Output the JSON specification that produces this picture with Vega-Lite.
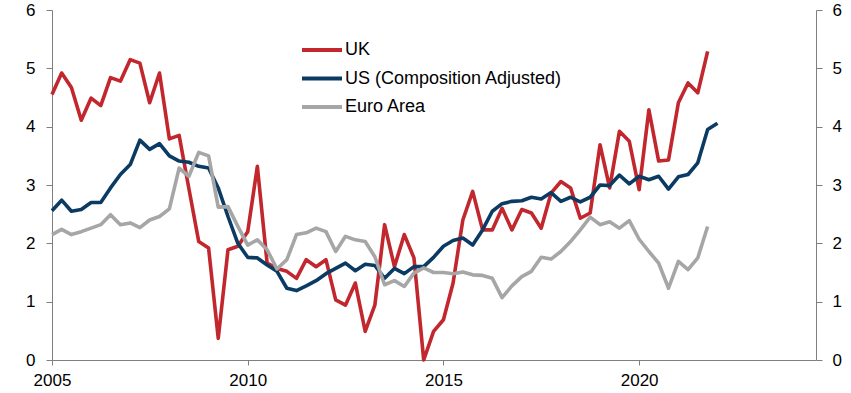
{
  "$schema": "https://vega.github.io/schema/vega-lite/v6.json",
  "width": 764,
  "height": 350,
  "autosize": {"type": "none"},
  "padding": {"left": 52, "top": 10, "right": 35, "bottom": 33},
  "config": {
    "view": {"stroke": null},
    "font": "Liberation Sans",
    "axis": {
      "grid": false,
      "domainColor": "#7f7f7f",
      "tickColor": "#7f7f7f",
      "labelColor": "#000000",
      "labelFontSize": 17,
      "title": null
    }
  },
  "data": {
    "values": [
      {"date": "2005-01-01", "UK": 4.55, "US (Composition Adjusted)": 2.56, "Euro Area": 2.15},
      {"date": "2005-04-01", "UK": 4.92, "US (Composition Adjusted)": 2.74, "Euro Area": 2.24},
      {"date": "2005-07-01", "UK": 4.67, "US (Composition Adjusted)": 2.55, "Euro Area": 2.15},
      {"date": "2005-10-01", "UK": 4.11, "US (Composition Adjusted)": 2.58, "Euro Area": 2.2},
      {"date": "2006-01-01", "UK": 4.49, "US (Composition Adjusted)": 2.7, "Euro Area": 2.26},
      {"date": "2006-04-01", "UK": 4.36, "US (Composition Adjusted)": 2.7, "Euro Area": 2.32},
      {"date": "2006-07-01", "UK": 4.84, "US (Composition Adjusted)": 2.95, "Euro Area": 2.49},
      {"date": "2006-10-01", "UK": 4.78, "US (Composition Adjusted)": 3.18, "Euro Area": 2.32},
      {"date": "2007-01-01", "UK": 5.15, "US (Composition Adjusted)": 3.35, "Euro Area": 2.35},
      {"date": "2007-04-01", "UK": 5.09, "US (Composition Adjusted)": 3.77, "Euro Area": 2.27},
      {"date": "2007-07-01", "UK": 4.41, "US (Composition Adjusted)": 3.61, "Euro Area": 2.4},
      {"date": "2007-10-01", "UK": 4.92, "US (Composition Adjusted)": 3.71, "Euro Area": 2.46},
      {"date": "2008-01-01", "UK": 3.79, "US (Composition Adjusted)": 3.5, "Euro Area": 2.59},
      {"date": "2008-04-01", "UK": 3.85, "US (Composition Adjusted)": 3.41, "Euro Area": 3.29},
      {"date": "2008-07-01", "UK": 2.94, "US (Composition Adjusted)": 3.39, "Euro Area": 3.15},
      {"date": "2008-10-01", "UK": 2.03, "US (Composition Adjusted)": 3.32, "Euro Area": 3.56},
      {"date": "2009-01-01", "UK": 1.92, "US (Composition Adjusted)": 3.29, "Euro Area": 3.5},
      {"date": "2009-04-01", "UK": 0.37, "US (Composition Adjusted)": 2.95, "Euro Area": 2.62},
      {"date": "2009-07-01", "UK": 1.89, "US (Composition Adjusted)": 2.46, "Euro Area": 2.63},
      {"date": "2009-10-01", "UK": 1.95, "US (Composition Adjusted)": 2.0, "Euro Area": 2.29},
      {"date": "2010-01-01", "UK": 2.2, "US (Composition Adjusted)": 1.76, "Euro Area": 1.97},
      {"date": "2010-04-01", "UK": 3.32, "US (Composition Adjusted)": 1.75, "Euro Area": 2.06},
      {"date": "2010-07-01", "UK": 1.66, "US (Composition Adjusted)": 1.63, "Euro Area": 1.89},
      {"date": "2010-10-01", "UK": 1.57, "US (Composition Adjusted)": 1.52, "Euro Area": 1.56},
      {"date": "2011-01-01", "UK": 1.52, "US (Composition Adjusted)": 1.23, "Euro Area": 1.72},
      {"date": "2011-04-01", "UK": 1.4, "US (Composition Adjusted)": 1.19, "Euro Area": 2.15},
      {"date": "2011-07-01", "UK": 1.72, "US (Composition Adjusted)": 1.27, "Euro Area": 2.18},
      {"date": "2011-10-01", "UK": 1.6, "US (Composition Adjusted)": 1.36, "Euro Area": 2.26},
      {"date": "2012-01-01", "UK": 1.72, "US (Composition Adjusted)": 1.48, "Euro Area": 2.2},
      {"date": "2012-04-01", "UK": 1.03, "US (Composition Adjusted)": 1.57, "Euro Area": 1.86},
      {"date": "2012-07-01", "UK": 0.94, "US (Composition Adjusted)": 1.66, "Euro Area": 2.12},
      {"date": "2012-10-01", "UK": 1.32, "US (Composition Adjusted)": 1.53, "Euro Area": 2.06},
      {"date": "2013-01-01", "UK": 0.49, "US (Composition Adjusted)": 1.64, "Euro Area": 2.03},
      {"date": "2013-04-01", "UK": 0.94, "US (Composition Adjusted)": 1.62, "Euro Area": 1.77},
      {"date": "2013-07-01", "UK": 2.32, "US (Composition Adjusted)": 1.4, "Euro Area": 1.29},
      {"date": "2013-10-01", "UK": 1.6, "US (Composition Adjusted)": 1.57, "Euro Area": 1.36},
      {"date": "2014-01-01", "UK": 2.15, "US (Composition Adjusted)": 1.48, "Euro Area": 1.26},
      {"date": "2014-04-01", "UK": 1.75, "US (Composition Adjusted)": 1.6, "Euro Area": 1.49},
      {"date": "2014-07-01", "UK": 0.0, "US (Composition Adjusted)": 1.6, "Euro Area": 1.58},
      {"date": "2014-10-01", "UK": 0.49, "US (Composition Adjusted)": 1.76, "Euro Area": 1.5},
      {"date": "2015-01-01", "UK": 0.69, "US (Composition Adjusted)": 1.95, "Euro Area": 1.5},
      {"date": "2015-04-01", "UK": 1.32, "US (Composition Adjusted)": 2.05, "Euro Area": 1.48},
      {"date": "2015-07-01", "UK": 2.4, "US (Composition Adjusted)": 2.09, "Euro Area": 1.51},
      {"date": "2015-10-01", "UK": 2.89, "US (Composition Adjusted)": 1.97, "Euro Area": 1.46},
      {"date": "2016-01-01", "UK": 2.23, "US (Composition Adjusted)": 2.23, "Euro Area": 1.45},
      {"date": "2016-04-01", "UK": 2.23, "US (Composition Adjusted)": 2.55, "Euro Area": 1.4},
      {"date": "2016-07-01", "UK": 2.6, "US (Composition Adjusted)": 2.68, "Euro Area": 1.07},
      {"date": "2016-10-01", "UK": 2.23, "US (Composition Adjusted)": 2.72, "Euro Area": 1.27},
      {"date": "2017-01-01", "UK": 2.58, "US (Composition Adjusted)": 2.73, "Euro Area": 1.43},
      {"date": "2017-04-01", "UK": 2.52, "US (Composition Adjusted)": 2.79, "Euro Area": 1.52},
      {"date": "2017-07-01", "UK": 2.26, "US (Composition Adjusted)": 2.76, "Euro Area": 1.76},
      {"date": "2017-10-01", "UK": 2.86, "US (Composition Adjusted)": 2.87, "Euro Area": 1.73},
      {"date": "2018-01-01", "UK": 3.06, "US (Composition Adjusted)": 2.72, "Euro Area": 1.86},
      {"date": "2018-04-01", "UK": 2.95, "US (Composition Adjusted)": 2.79, "Euro Area": 2.03},
      {"date": "2018-07-01", "UK": 2.43, "US (Composition Adjusted)": 2.71, "Euro Area": 2.23},
      {"date": "2018-10-01", "UK": 2.52, "US (Composition Adjusted)": 2.79, "Euro Area": 2.45},
      {"date": "2019-01-01", "UK": 3.69, "US (Composition Adjusted)": 3.0, "Euro Area": 2.32},
      {"date": "2019-04-01", "UK": 2.95, "US (Composition Adjusted)": 2.99, "Euro Area": 2.37},
      {"date": "2019-07-01", "UK": 3.92, "US (Composition Adjusted)": 3.17, "Euro Area": 2.26},
      {"date": "2019-10-01", "UK": 3.75, "US (Composition Adjusted)": 3.02, "Euro Area": 2.39},
      {"date": "2020-01-01", "UK": 2.92, "US (Composition Adjusted)": 3.15, "Euro Area": 2.07},
      {"date": "2020-04-01", "UK": 4.29, "US (Composition Adjusted)": 3.09, "Euro Area": 1.86},
      {"date": "2020-07-01", "UK": 3.41, "US (Composition Adjusted)": 3.15, "Euro Area": 1.66},
      {"date": "2020-10-01", "UK": 3.43, "US (Composition Adjusted)": 2.93, "Euro Area": 1.23},
      {"date": "2021-01-01", "UK": 4.41, "US (Composition Adjusted)": 3.14, "Euro Area": 1.69},
      {"date": "2021-04-01", "UK": 4.75, "US (Composition Adjusted)": 3.18, "Euro Area": 1.55},
      {"date": "2021-07-01", "UK": 4.58, "US (Composition Adjusted)": 3.38, "Euro Area": 1.75},
      {"date": "2021-10-01", "UK": 5.29, "US (Composition Adjusted)": 3.95, "Euro Area": 2.29},
      {"date": "2022-01-01", "UK": null, "US (Composition Adjusted)": 4.06, "Euro Area": null}
    ]
  },
  "transform": [
    {"fold": ["UK", "US (Composition Adjusted)", "Euro Area"], "as": ["series", "value"]},
    {"filter": "isValid(datum.value)"}
  ],
  "layer": [
    {
      "mark": {"type": "line", "strokeWidth": 3.6, "strokeJoin": "round"},
      "encoding": {
        "x": {
          "field": "date",
          "type": "temporal",
          "scale": {
            "type": "utc",
            "domain": [
              {"year": 2005, "month": 1, "date": 1, "utc": true},
              {"year": 2024, "month": 7, "date": 8, "utc": true}
            ]
          },
          "axis": {
            "values": [
              {"year": 2005, "month": 1, "date": 1, "utc": true},
              {"year": 2010, "month": 1, "date": 1, "utc": true},
              {"year": 2015, "month": 1, "date": 1, "utc": true},
              {"year": 2020, "month": 1, "date": 1, "utc": true}
            ],
            "format": "%Y",
            "formatType": "utc",
            "tickSize": 5,
            "labelPadding": 7,
            "labelFlush": false
          }
        },
        "y": {
          "field": "value",
          "type": "quantitative",
          "scale": {"domain": [0, 6], "nice": false},
          "axis": {"values": [0, 1, 2, 3, 4, 5, 6], "tickSize": 6, "labelPadding": 11, "orient": "left"}
        },
        "color": {
          "field": "series",
          "type": "nominal",
          "scale": {
            "domain": ["UK", "US (Composition Adjusted)", "Euro Area"],
            "range": ["#C1272D", "#0B3B63", "#A6A6A6"]
          },
          "legend": {
            "title": null,
            "orient": "none",
            "legendX": 258,
            "legendY": 28,
            "symbolType": "M-2,0H2",
            "symbolSize": 400,
            "symbolStrokeWidth": 4,
            "symbolStrokeCap": "round",
            "labelFontSize": 18,
            "labelColor": "#000000",
            "labelOffset": 11,
            "labelLimit": 0,
            "rowPadding": 7.5
          }
        }
      }
    },
    {
      "mark": {"type": "line", "opacity": 0},
      "encoding": {
        "x": {"field": "date", "type": "temporal"},
        "y": {
          "field": "value",
          "type": "quantitative",
          "scale": {"domain": [0, 6], "nice": false},
          "axis": {"values": [0, 1, 2, 3, 4, 5, 6], "tickSize": 6, "labelPadding": 10, "orient": "right"}
        },
        "detail": {"field": "series"}
      }
    }
  ],
  "resolve": {"scale": {"y": "independent"}}
}
